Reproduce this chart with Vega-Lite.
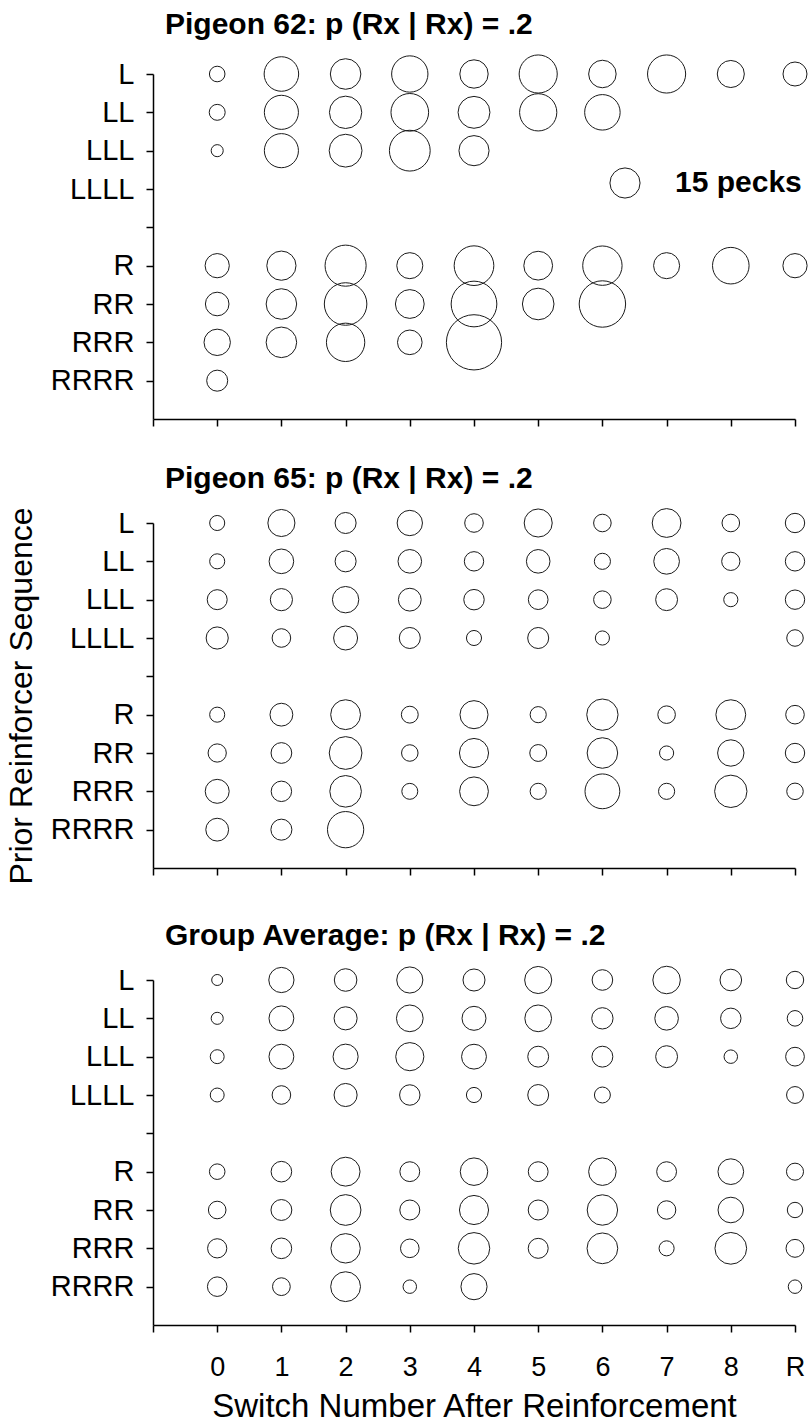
{
  "$schema": "https://vega.github.io/schema/vega-lite/v6.json",
  "background": "white",
  "padding": {"left": 5, "top": 9, "right": 0, "bottom": 0},
  "config": {
    "font": "Liberation Sans",
    "view": {"stroke": null},
    "axis": {"domainColor": "black", "domainWidth": 1.5, "tickColor": "black", "tickWidth": 1.5, "tickSize": 7, "grid": false, "labelColor": "black", "titleColor": "black", "labelFont": "Liberation Sans", "titleFont": "Liberation Sans", "titleFontWeight": "normal"},
    "title": {"font": "Liberation Sans", "fontSize": 30, "fontWeight": "bold", "anchor": "start", "frame": "group", "dx": 12, "color": "black", "offset": 13},
    "concat": {"spacing": 36}
  },
  "datasets": {
    "bubbles": [
      {"panel": "P62", "sequence": "L", "switch": "0", "pecks": 4.0},
      {"panel": "P62", "sequence": "L", "switch": "1", "pecks": 19.7},
      {"panel": "P62", "sequence": "L", "switch": "2", "pecks": 15.4},
      {"panel": "P62", "sequence": "L", "switch": "3", "pecks": 21.8},
      {"panel": "P62", "sequence": "L", "switch": "4", "pecks": 13.3},
      {"panel": "P62", "sequence": "L", "switch": "5", "pecks": 24.0},
      {"panel": "P62", "sequence": "L", "switch": "6", "pecks": 12.5},
      {"panel": "P62", "sequence": "L", "switch": "7", "pecks": 24.0},
      {"panel": "P62", "sequence": "L", "switch": "8", "pecks": 12.1},
      {"panel": "P62", "sequence": "L", "switch": "R", "pecks": 9.5},
      {"panel": "P62", "sequence": "LL", "switch": "0", "pecks": 4.2},
      {"panel": "P62", "sequence": "LL", "switch": "1", "pecks": 19.2},
      {"panel": "P62", "sequence": "LL", "switch": "2", "pecks": 17.3},
      {"panel": "P62", "sequence": "LL", "switch": "3", "pecks": 23.4},
      {"panel": "P62", "sequence": "LL", "switch": "4", "pecks": 16.8},
      {"panel": "P62", "sequence": "LL", "switch": "5", "pecks": 22.9},
      {"panel": "P62", "sequence": "LL", "switch": "6", "pecks": 20.8},
      {"panel": "P62", "sequence": "LLL", "switch": "0", "pecks": 2.4},
      {"panel": "P62", "sequence": "LLL", "switch": "1", "pecks": 19.2},
      {"panel": "P62", "sequence": "LLL", "switch": "2", "pecks": 17.8},
      {"panel": "P62", "sequence": "LLL", "switch": "3", "pecks": 27.5},
      {"panel": "P62", "sequence": "LLL", "switch": "4", "pecks": 15.0},
      {"panel": "P62", "sequence": "R", "switch": "0", "pecks": 9.7},
      {"panel": "P62", "sequence": "R", "switch": "1", "pecks": 14.1},
      {"panel": "P62", "sequence": "R", "switch": "2", "pecks": 27.9},
      {"panel": "P62", "sequence": "R", "switch": "3", "pecks": 11.2},
      {"panel": "P62", "sequence": "R", "switch": "4", "pecks": 26.0},
      {"panel": "P62", "sequence": "R", "switch": "5", "pecks": 13.7},
      {"panel": "P62", "sequence": "R", "switch": "6", "pecks": 25.6},
      {"panel": "P62", "sequence": "R", "switch": "7", "pecks": 11.2},
      {"panel": "P62", "sequence": "R", "switch": "8", "pecks": 22.1},
      {"panel": "P62", "sequence": "R", "switch": "R", "pecks": 9.7},
      {"panel": "P62", "sequence": "RR", "switch": "0", "pecks": 9.2},
      {"panel": "P62", "sequence": "RR", "switch": "1", "pecks": 15.4},
      {"panel": "P62", "sequence": "RR", "switch": "2", "pecks": 29.9},
      {"panel": "P62", "sequence": "RR", "switch": "3", "pecks": 13.7},
      {"panel": "P62", "sequence": "RR", "switch": "4", "pecks": 34.5},
      {"panel": "P62", "sequence": "RR", "switch": "5", "pecks": 16.5},
      {"panel": "P62", "sequence": "RR", "switch": "6", "pecks": 35.6},
      {"panel": "P62", "sequence": "RRR", "switch": "0", "pecks": 11.5},
      {"panel": "P62", "sequence": "RRR", "switch": "1", "pecks": 15.4},
      {"panel": "P62", "sequence": "RRR", "switch": "2", "pecks": 24.3},
      {"panel": "P62", "sequence": "RRR", "switch": "3", "pecks": 10.0},
      {"panel": "P62", "sequence": "RRR", "switch": "4", "pecks": 50.4},
      {"panel": "P62", "sequence": "RRRR", "switch": "0", "pecks": 7.3},

      {"panel": "P65", "sequence": "L", "switch": "0", "pecks": 3.75},
      {"panel": "P65", "sequence": "L", "switch": "1", "pecks": 12.1},
      {"panel": "P65", "sequence": "L", "switch": "2", "pecks": 7.3},
      {"panel": "P65", "sequence": "L", "switch": "3", "pecks": 10.6},
      {"panel": "P65", "sequence": "L", "switch": "4", "pecks": 5.7},
      {"panel": "P65", "sequence": "L", "switch": "5", "pecks": 13.0},
      {"panel": "P65", "sequence": "L", "switch": "6", "pecks": 5.1},
      {"panel": "P65", "sequence": "L", "switch": "7", "pecks": 13.7},
      {"panel": "P65", "sequence": "L", "switch": "8", "pecks": 5.1},
      {"panel": "P65", "sequence": "L", "switch": "R", "pecks": 6.2},
      {"panel": "P65", "sequence": "LL", "switch": "0", "pecks": 3.75},
      {"panel": "P65", "sequence": "LL", "switch": "1", "pecks": 10.0},
      {"panel": "P65", "sequence": "LL", "switch": "2", "pecks": 7.3},
      {"panel": "P65", "sequence": "LL", "switch": "3", "pecks": 9.2},
      {"panel": "P65", "sequence": "LL", "switch": "4", "pecks": 6.2},
      {"panel": "P65", "sequence": "LL", "switch": "5", "pecks": 9.2},
      {"panel": "P65", "sequence": "LL", "switch": "6", "pecks": 4.3},
      {"panel": "P65", "sequence": "LL", "switch": "7", "pecks": 10.9},
      {"panel": "P65", "sequence": "LL", "switch": "8", "pecks": 5.5},
      {"panel": "P65", "sequence": "LL", "switch": "R", "pecks": 6.2},
      {"panel": "P65", "sequence": "LLL", "switch": "0", "pecks": 6.6},
      {"panel": "P65", "sequence": "LLL", "switch": "1", "pecks": 8.1},
      {"panel": "P65", "sequence": "LLL", "switch": "2", "pecks": 11.5},
      {"panel": "P65", "sequence": "LLL", "switch": "3", "pecks": 8.6},
      {"panel": "P65", "sequence": "LLL", "switch": "4", "pecks": 6.9},
      {"panel": "P65", "sequence": "LLL", "switch": "5", "pecks": 6.4},
      {"panel": "P65", "sequence": "LLL", "switch": "6", "pecks": 5.1},
      {"panel": "P65", "sequence": "LLL", "switch": "7", "pecks": 7.9},
      {"panel": "P65", "sequence": "LLL", "switch": "8", "pecks": 3.3},
      {"panel": "P65", "sequence": "LLL", "switch": "R", "pecks": 6.2},
      {"panel": "P65", "sequence": "LLLL", "switch": "0", "pecks": 8.1},
      {"panel": "P65", "sequence": "LLLL", "switch": "1", "pecks": 5.7},
      {"panel": "P65", "sequence": "LLLL", "switch": "2", "pecks": 9.5},
      {"panel": "P65", "sequence": "LLLL", "switch": "3", "pecks": 7.3},
      {"panel": "P65", "sequence": "LLLL", "switch": "4", "pecks": 3.75},
      {"panel": "P65", "sequence": "LLLL", "switch": "5", "pecks": 7.3},
      {"panel": "P65", "sequence": "LLLL", "switch": "6", "pecks": 3.3},
      {"panel": "P65", "sequence": "LLLL", "switch": "R", "pecks": 4.5},
      {"panel": "P65", "sequence": "R", "switch": "0", "pecks": 3.75},
      {"panel": "P65", "sequence": "R", "switch": "1", "pecks": 8.6},
      {"panel": "P65", "sequence": "R", "switch": "2", "pecks": 14.7},
      {"panel": "P65", "sequence": "R", "switch": "3", "pecks": 4.7},
      {"panel": "P65", "sequence": "R", "switch": "4", "pecks": 13.0},
      {"panel": "P65", "sequence": "R", "switch": "5", "pecks": 4.3},
      {"panel": "P65", "sequence": "R", "switch": "6", "pecks": 16.2},
      {"panel": "P65", "sequence": "R", "switch": "7", "pecks": 5.1},
      {"panel": "P65", "sequence": "R", "switch": "8", "pecks": 14.7},
      {"panel": "P65", "sequence": "R", "switch": "R", "pecks": 5.7},
      {"panel": "P65", "sequence": "RR", "switch": "0", "pecks": 5.5},
      {"panel": "P65", "sequence": "RR", "switch": "1", "pecks": 7.1},
      {"panel": "P65", "sequence": "RR", "switch": "2", "pecks": 17.7},
      {"panel": "P65", "sequence": "RR", "switch": "3", "pecks": 4.5},
      {"panel": "P65", "sequence": "RR", "switch": "4", "pecks": 14.0},
      {"panel": "P65", "sequence": "RR", "switch": "5", "pecks": 4.7},
      {"panel": "P65", "sequence": "RR", "switch": "6", "pecks": 15.4},
      {"panel": "P65", "sequence": "RR", "switch": "7", "pecks": 3.3},
      {"panel": "P65", "sequence": "RR", "switch": "8", "pecks": 11.5},
      {"panel": "P65", "sequence": "RR", "switch": "R", "pecks": 6.2},
      {"panel": "P65", "sequence": "RRR", "switch": "0", "pecks": 9.5},
      {"panel": "P65", "sequence": "RRR", "switch": "1", "pecks": 6.9},
      {"panel": "P65", "sequence": "RRR", "switch": "2", "pecks": 16.5},
      {"panel": "P65", "sequence": "RRR", "switch": "3", "pecks": 4.2},
      {"panel": "P65", "sequence": "RRR", "switch": "4", "pecks": 13.7},
      {"panel": "P65", "sequence": "RRR", "switch": "5", "pecks": 4.3},
      {"panel": "P65", "sequence": "RRR", "switch": "6", "pecks": 20.0},
      {"panel": "P65", "sequence": "RRR", "switch": "7", "pecks": 4.3},
      {"panel": "P65", "sequence": "RRR", "switch": "8", "pecks": 17.3},
      {"panel": "P65", "sequence": "RRR", "switch": "R", "pecks": 4.5},
      {"panel": "P65", "sequence": "RRRR", "switch": "0", "pecks": 8.6},
      {"panel": "P65", "sequence": "RRRR", "switch": "1", "pecks": 7.3},
      {"panel": "P65", "sequence": "RRRR", "switch": "2", "pecks": 21.7},

      {"panel": "AVG", "sequence": "L", "switch": "0", "pecks": 2.0},
      {"panel": "AVG", "sequence": "L", "switch": "1", "pecks": 10.5},
      {"panel": "AVG", "sequence": "L", "switch": "2", "pecks": 8.4},
      {"panel": "AVG", "sequence": "L", "switch": "3", "pecks": 11.3},
      {"panel": "AVG", "sequence": "L", "switch": "4", "pecks": 8.0},
      {"panel": "AVG", "sequence": "L", "switch": "5", "pecks": 12.1},
      {"panel": "AVG", "sequence": "L", "switch": "6", "pecks": 7.0},
      {"panel": "AVG", "sequence": "L", "switch": "7", "pecks": 12.5},
      {"panel": "AVG", "sequence": "L", "switch": "8", "pecks": 7.7},
      {"panel": "AVG", "sequence": "L", "switch": "R", "pecks": 5.0},
      {"panel": "AVG", "sequence": "LL", "switch": "0", "pecks": 2.4},
      {"panel": "AVG", "sequence": "LL", "switch": "1", "pecks": 10.2},
      {"panel": "AVG", "sequence": "LL", "switch": "2", "pecks": 8.8},
      {"panel": "AVG", "sequence": "LL", "switch": "3", "pecks": 11.8},
      {"panel": "AVG", "sequence": "LL", "switch": "4", "pecks": 9.5},
      {"panel": "AVG", "sequence": "LL", "switch": "5", "pecks": 11.8},
      {"panel": "AVG", "sequence": "LL", "switch": "6", "pecks": 7.5},
      {"panel": "AVG", "sequence": "LL", "switch": "7", "pecks": 9.2},
      {"panel": "AVG", "sequence": "LL", "switch": "8", "pecks": 6.9},
      {"panel": "AVG", "sequence": "LL", "switch": "R", "pecks": 4.0},
      {"panel": "AVG", "sequence": "LLL", "switch": "0", "pecks": 3.2},
      {"panel": "AVG", "sequence": "LLL", "switch": "1", "pecks": 10.2},
      {"panel": "AVG", "sequence": "LLL", "switch": "2", "pecks": 10.4},
      {"panel": "AVG", "sequence": "LLL", "switch": "3", "pecks": 13.1},
      {"panel": "AVG", "sequence": "LLL", "switch": "4", "pecks": 10.2},
      {"panel": "AVG", "sequence": "LLL", "switch": "5", "pecks": 7.2},
      {"panel": "AVG", "sequence": "LLL", "switch": "6", "pecks": 7.2},
      {"panel": "AVG", "sequence": "LLL", "switch": "7", "pecks": 7.9},
      {"panel": "AVG", "sequence": "LLL", "switch": "8", "pecks": 3.0},
      {"panel": "AVG", "sequence": "LLL", "switch": "R", "pecks": 5.8},
      {"panel": "AVG", "sequence": "LLLL", "switch": "0", "pecks": 3.2},
      {"panel": "AVG", "sequence": "LLLL", "switch": "1", "pecks": 5.7},
      {"panel": "AVG", "sequence": "LLLL", "switch": "2", "pecks": 8.8},
      {"panel": "AVG", "sequence": "LLLL", "switch": "3", "pecks": 6.9},
      {"panel": "AVG", "sequence": "LLLL", "switch": "4", "pecks": 3.8},
      {"panel": "AVG", "sequence": "LLLL", "switch": "5", "pecks": 7.2},
      {"panel": "AVG", "sequence": "LLLL", "switch": "6", "pecks": 4.2},
      {"panel": "AVG", "sequence": "LLLL", "switch": "R", "pecks": 4.7},
      {"panel": "AVG", "sequence": "R", "switch": "0", "pecks": 4.0},
      {"panel": "AVG", "sequence": "R", "switch": "1", "pecks": 7.0},
      {"panel": "AVG", "sequence": "R", "switch": "2", "pecks": 13.8},
      {"panel": "AVG", "sequence": "R", "switch": "3", "pecks": 6.5},
      {"panel": "AVG", "sequence": "R", "switch": "4", "pecks": 12.5},
      {"panel": "AVG", "sequence": "R", "switch": "5", "pecks": 6.5},
      {"panel": "AVG", "sequence": "R", "switch": "6", "pecks": 12.5},
      {"panel": "AVG", "sequence": "R", "switch": "7", "pecks": 6.5},
      {"panel": "AVG", "sequence": "R", "switch": "8", "pecks": 10.9},
      {"panel": "AVG", "sequence": "R", "switch": "R", "pecks": 4.8},
      {"panel": "AVG", "sequence": "RR", "switch": "0", "pecks": 5.1},
      {"panel": "AVG", "sequence": "RR", "switch": "1", "pecks": 7.2},
      {"panel": "AVG", "sequence": "RR", "switch": "2", "pecks": 15.6},
      {"panel": "AVG", "sequence": "RR", "switch": "3", "pecks": 6.6},
      {"panel": "AVG", "sequence": "RR", "switch": "4", "pecks": 14.0},
      {"panel": "AVG", "sequence": "RR", "switch": "5", "pecks": 6.6},
      {"panel": "AVG", "sequence": "RR", "switch": "6", "pecks": 15.3},
      {"panel": "AVG", "sequence": "RR", "switch": "7", "pecks": 5.6},
      {"panel": "AVG", "sequence": "RR", "switch": "8", "pecks": 10.8},
      {"panel": "AVG", "sequence": "RR", "switch": "R", "pecks": 3.9},
      {"panel": "AVG", "sequence": "RRR", "switch": "0", "pecks": 6.1},
      {"panel": "AVG", "sequence": "RRR", "switch": "1", "pecks": 7.0},
      {"panel": "AVG", "sequence": "RRR", "switch": "2", "pecks": 14.3},
      {"panel": "AVG", "sequence": "RRR", "switch": "3", "pecks": 5.7},
      {"panel": "AVG", "sequence": "RRR", "switch": "4", "pecks": 16.4},
      {"panel": "AVG", "sequence": "RRR", "switch": "5", "pecks": 6.6},
      {"panel": "AVG", "sequence": "RRR", "switch": "6", "pecks": 15.6},
      {"panel": "AVG", "sequence": "RRR", "switch": "7", "pecks": 3.75},
      {"panel": "AVG", "sequence": "RRR", "switch": "8", "pecks": 16.6},
      {"panel": "AVG", "sequence": "RRR", "switch": "R", "pecks": 5.3},
      {"panel": "AVG", "sequence": "RRRR", "switch": "0", "pecks": 6.3},
      {"panel": "AVG", "sequence": "RRRR", "switch": "1", "pecks": 5.2},
      {"panel": "AVG", "sequence": "RRRR", "switch": "2", "pecks": 14.7},
      {"panel": "AVG", "sequence": "RRRR", "switch": "3", "pecks": 3.0},
      {"panel": "AVG", "sequence": "RRRR", "switch": "4", "pecks": 11.3},
      {"panel": "AVG", "sequence": "RRRR", "switch": "R", "pecks": 3.0}
    ]
  },
  "resolve": {"scale": {"size": "independent"}, "legend": {"size": "independent"}},
  "vconcat": [
    {
      "width": 642, "height": 345,
      "title": {"text": "Pigeon 62: p (Rx | Rx) = .2"},
      "data": {"name": "bubbles"},
      "transform": [{"filter": "datum.panel == 'P62'"}],
      "mark": {"type": "point", "shape": "circle", "filled": false, "stroke": "#1a1a1a", "strokeWidth": 1, "opacity": 1},
      "encoding": {
        "x": {"field": "switch", "type": "ordinal", "scale": {"type": "point", "domain": ["start", "0", "1", "2", "3", "4", "5", "6", "7", "8", "R"], "padding": 0}, "axis": {"labels": false, "title": null}},
        "y": {"field": "sequence", "type": "ordinal", "scale": {"type": "point", "domain": ["L", "LL", "LLL", "LLLL", "gap", "R", "RR", "RRR", "RRRR", "end"], "padding": 0}, "axis": {"values": ["L", "LL", "LLL", "LLLL", "gap", "R", "RR", "RRR", "RRRR"], "labelExpr": "datum.value == 'gap' ? '' : datum.value", "labelFontSize": 29, "labelPadding": 12, "title": null}},
        "size": {"field": "pecks", "type": "quantitative", "scale": {"domain": [0, 60], "range": [0, 3632], "zero": true},
          "legend": {"values": [15], "labelExpr": "'15 pecks'", "title": null, "orient": "none", "legendX": 456, "legendY": 93, "padding": 0, "labelFontSize": 30, "labelFontWeight": "bold", "labelColor": "black", "labelFont": "Liberation Sans", "labelOffset": 34, "symbolType": "circle", "symbolStrokeColor": "#1a1a1a", "symbolStrokeWidth": 1, "symbolFillColor": "transparent", "symbolOpacity": 1}}
      }
    },
    {
      "width": 642, "height": 345,
      "title": {"text": "Pigeon 65: p (Rx | Rx) = .2"},
      "data": {"name": "bubbles"},
      "transform": [{"filter": "datum.panel == 'P65'"}],
      "mark": {"type": "point", "shape": "circle", "filled": false, "stroke": "#1a1a1a", "strokeWidth": 1, "opacity": 1},
      "encoding": {
        "x": {"field": "switch", "type": "ordinal", "scale": {"type": "point", "domain": ["start", "0", "1", "2", "3", "4", "5", "6", "7", "8", "R"], "padding": 0}, "axis": {"labels": false, "title": null}},
        "y": {"field": "sequence", "type": "ordinal", "scale": {"type": "point", "domain": ["L", "LL", "LLL", "LLLL", "gap", "R", "RR", "RRR", "RRRR", "end"], "padding": 0}, "axis": {"values": ["L", "LL", "LLL", "LLLL", "gap", "R", "RR", "RRR", "RRRR"], "labelExpr": "datum.value == 'gap' ? '' : datum.value", "labelFontSize": 29, "labelPadding": 12, "title": "Prior Reinforcer Sequence", "titleFontSize": 32, "titlePadding": 12}},
        "size": {"field": "pecks", "type": "quantitative", "scale": {"domain": [0, 60], "range": [0, 3632], "zero": true}, "legend": null}
      }
    },
    {
      "width": 642, "height": 345,
      "title": {"text": "Group Average: p (Rx | Rx) = .2"},
      "data": {"name": "bubbles"},
      "transform": [{"filter": "datum.panel == 'AVG'"}],
      "mark": {"type": "point", "shape": "circle", "filled": false, "stroke": "#1a1a1a", "strokeWidth": 1, "opacity": 1},
      "encoding": {
        "x": {"field": "switch", "type": "ordinal", "scale": {"type": "point", "domain": ["start", "0", "1", "2", "3", "4", "5", "6", "7", "8", "R"], "padding": 0}, "axis": {"labelExpr": "datum.value == 'start' ? '' : datum.value", "labelAngle": 0, "labelFontSize": 27, "labelPadding": 22, "title": "Switch Number After Reinforcement", "titleFontSize": 33, "titlePadding": 10}},
        "y": {"field": "sequence", "type": "ordinal", "scale": {"type": "point", "domain": ["L", "LL", "LLL", "LLLL", "gap", "R", "RR", "RRR", "RRRR", "end"], "padding": 0}, "axis": {"values": ["L", "LL", "LLL", "LLLL", "gap", "R", "RR", "RRR", "RRRR"], "labelExpr": "datum.value == 'gap' ? '' : datum.value", "labelFontSize": 29, "labelPadding": 12, "title": null}},
        "size": {"field": "pecks", "type": "quantitative", "scale": {"domain": [0, 60], "range": [0, 3632], "zero": true}, "legend": null}
      }
    }
  ]
}
